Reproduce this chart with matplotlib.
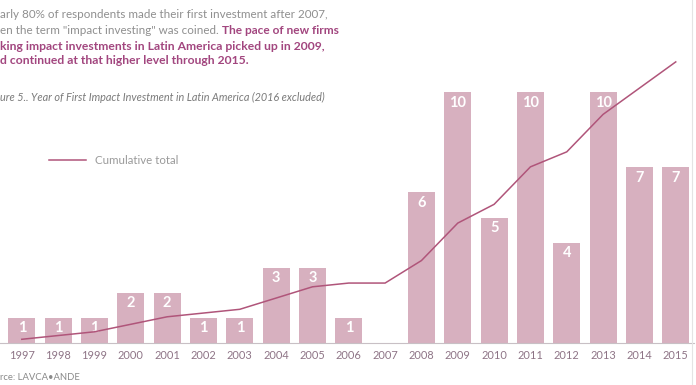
import numpy as np
import matplotlib.pyplot as plt
from matplotlib.lines import Line2D

# données
years = ['1997', '1998', '1999', '2000', '2001', '2002', '2003', '2004', '2005', '2006',
         '2007', '2008', '2009', '2010', '2011', '2012', '2013', '2014', '2015']
counts = [1, 1, 1, 2, 2, 1, 1, 3, 3, 1, 0, 6, 10, 5, 10, 4, 10, 7, 7]
cumulative = np.cumsum(counts)

bar_color = '#d7b0bf'
line_color = '#b0557a'
tick_color = '#8e7486'
gray_text = '#8f8f8f'
bold_text = '#a2467f'

plt.rcParams['font.family'] = ['Lato', 'DejaVu Sans']

fig = plt.figure(figsize=(6.96, 3.85), dpi=100)
ax = fig.add_axes([0.0, 0.109, 0.997, 0.813])
x = np.arange(len(years))

ax.bar(x, counts, width=0.74, color=bar_color, zorder=2)
for xi, v in zip(x, counts):
    if v > 0:
        ax.text(xi, v - 0.42, str(v), ha='center', va='center', color='white',
                fontsize=10.5, fontweight='bold', zorder=3)

ax.set_xlim(-0.6, 18.5)
ax.set_ylim(0, 12.47)
ax.set_xticks(x)
ax.set_xticklabels(years, fontsize=7.9, color=tick_color)
ax.tick_params(axis='x', length=0, pad=5)
ax.set_yticks([])
for s in ['top', 'left', 'right']:
    ax.spines[s].set_visible(False)
ax.spines['bottom'].set_color('#c8c0c5')
ax.spines['bottom'].set_linewidth(0.8)

# total cumulé sur un axe secondaire
ax2 = ax.twinx()
ax2.plot(x, cumulative, color=line_color, linewidth=1.1, zorder=4)
ax2.set_ylim(0, 83.5)
ax2.set_yticks([])
for s in ax2.spines.values():
    s.set_visible(False)

handle = Line2D([], [], color=line_color, linewidth=1.1)
fig.legend([handle], ['Cumulative total'], loc='center left',
           bbox_to_anchor=(0.055, 0.582), frameon=False, handlelength=3.2,
           handletextpad=0.8, prop={'size': 8.3}, labelcolor='#9a9a9a')

# texte au-dessus du graphique
fig.text(0.0, 1 - 14 / 385, 'arly 80% of respondents made their first investment after 2007,',
         fontsize=8.35, color=gray_text, va='center')
t = fig.text(0.0, 1 - 30 / 385, 'en the term "impact investing" was coined. ',
             fontsize=8.35, color=gray_text, va='center')
fig.canvas.draw()
bb = t.get_window_extent()
fig.text(bb.x1 / fig.bbox.width, 1 - 30 / 385, 'The pace of new firms',
         fontsize=8.6, color=bold_text, fontweight='bold', va='center')
fig.text(0.0, 1 - 46 / 385, 'king impact investments in Latin America picked up in 2009,',
         fontsize=8.7, color=bold_text, fontweight='bold', va='center')
fig.text(0.0, 1 - 61 / 385, 'd continued at that higher level through 2015.',
         fontsize=8.7, color=bold_text, fontweight='bold', va='center')
fig.text(0.0, 1 - 97 / 385,
         'ure 5.. Year of First Impact Investment in Latin America (2016 excluded)',
         fontsize=7.8, color='#7a7a7a', style='italic', va='center')
fig.text(0.0, 1 - 378 / 385, 'rce: LAVCA\u2022ANDE', fontsize=6.8, color='#8a8a8a', va='center')

fig.add_artist(Line2D([0.994, 0.994], [0.0, 1.0], color='#e4e4e4', linewidth=0.8))

plt.savefig('out.png', dpi=100)
